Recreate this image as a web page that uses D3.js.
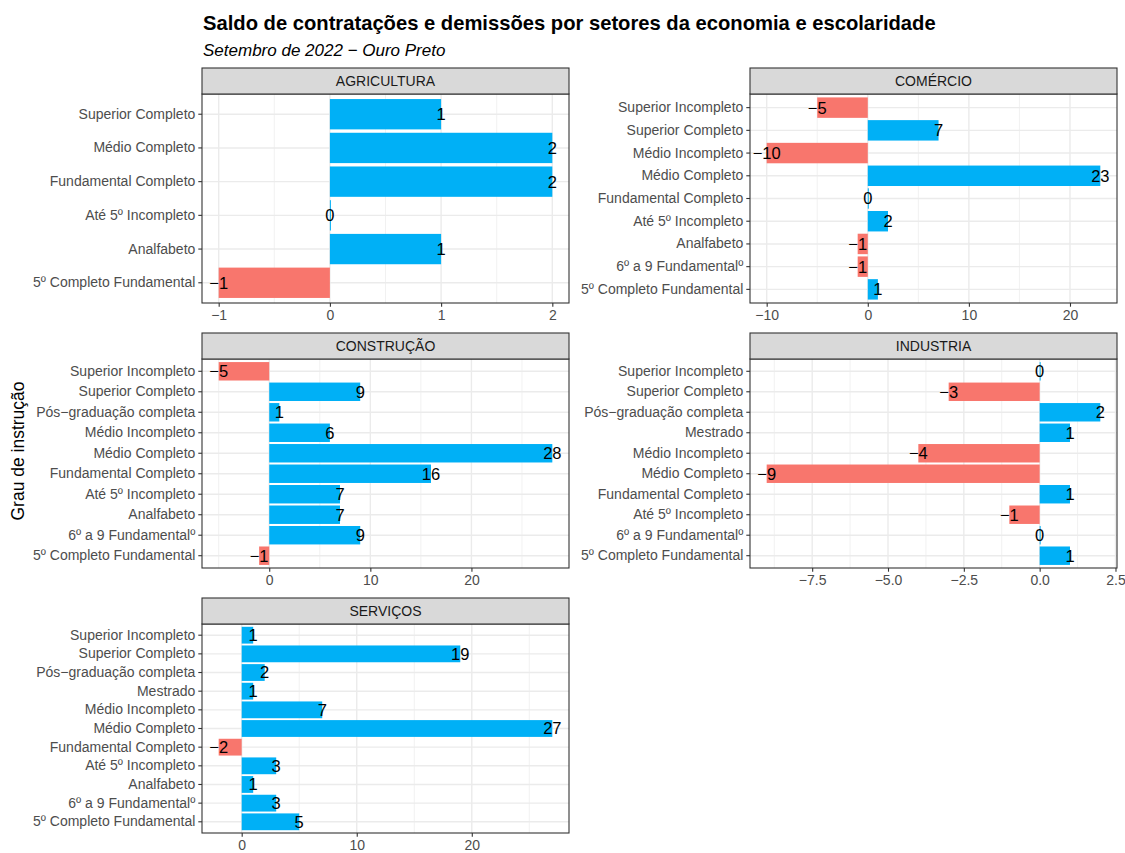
<!DOCTYPE html>
<html>
<head>
<meta charset="utf-8">
<script src="https://cdn.jsdelivr.net/npm/d3@7"></script>
<style>
  body { margin: 0; background: #fff; }
  text { font-family: "Liberation Sans", Arial, sans-serif; }
</style>
</head>
<body>
<div id="chart"></div>
<script>
// data: one array of categories (top to bottom) and values per sector
var sectors = ["AGRICULTURA", "COMÉRCIO", "CONSTRUÇÃO", "INDUSTRIA", "SERVIÇOS"];

var agriCats = ["Superior Completo", "Médio Completo", "Fundamental Completo", "Até 5º Incompleto", "Analfabeto", "5º Completo Fundamental"];
var agriVals = [1, 2, 2, 0, 1, -1];

var comCats = ["Superior Incompleto", "Superior Completo", "Médio Incompleto", "Médio Completo", "Fundamental Completo", "Até 5º Incompleto", "Analfabeto", "6º a 9 Fundamentalº", "5º Completo Fundamental"];
var comVals = [-5, 7, -10, 23, 0, 2, -1, -1, 1];

var consCats = ["Superior Incompleto", "Superior Completo", "Pós−graduação completa", "Médio Incompleto", "Médio Completo", "Fundamental Completo", "Até 5º Incompleto", "Analfabeto", "6º a 9 Fundamentalº", "5º Completo Fundamental"];
var consVals = [-5, 9, 1, 6, 28, 16, 7, 7, 9, -1];

var indCats = ["Superior Incompleto", "Superior Completo", "Pós−graduação completa", "Mestrado", "Médio Incompleto", "Médio Completo", "Fundamental Completo", "Até 5º Incompleto", "6º a 9 Fundamentalº", "5º Completo Fundamental"];
var indVals = [0, -3, 2, 1, -4, -9, 1, -1, 0, 1];

var servCats = ["Superior Incompleto", "Superior Completo", "Pós−graduação completa", "Mestrado", "Médio Incompleto", "Médio Completo", "Fundamental Completo", "Até 5º Incompleto", "Analfabeto", "6º a 9 Fundamentalº", "5º Completo Fundamental"];
var servVals = [1, 19, 2, 1, 7, 27, -2, 3, 1, 3, 5];

// x tick labels per sector
var agriTicks = [-1, 0, 1, 2];
var comTicks = [-10, 0, 10, 20];
var consTicks = [0, 10, 20];
var indTicks = [-7.5, -5, -2.5, 0, 2.5];
var servTicks = [0, 10, 20];

var facets = [
  { name: sectors[0], cats: agriCats, vals: agriVals, ticks: agriTicks, fmt: d3.format("d") },
  { name: sectors[1], cats: comCats, vals: comVals, ticks: comTicks, fmt: d3.format("d") },
  { name: sectors[2], cats: consCats, vals: consVals, ticks: consTicks, fmt: d3.format("d") },
  { name: sectors[3], cats: indCats, vals: indVals, ticks: indTicks, fmt: d3.format(".1f") },
  { name: sectors[4], cats: servCats, vals: servVals, ticks: servTicks, fmt: d3.format("d") }
];

var W = 1125, H = 853;
var colX = [202, 750], panelW = 367;
var rowY = [68, 333, 598], stripH = 26, panelH = 209;
var posColor = "#00B0F6", negColor = "#F8766D";

var svg = d3.select("#chart").append("svg")
  .attr("width", W).attr("height", H);

svg.append("text")
  .attr("x", 203).attr("y", 30)
  .style("font-size", "20.2px").style("font-weight", "bold")
  .text("Saldo de contratações e demissões por setores da economia e escolaridade");

svg.append("text")
  .attr("x", 203).attr("y", 56)
  .style("font-size", "17px").style("font-style", "italic")
  .text("Setembro de 2022 − Ouro Preto");

svg.append("text")
  .attr("transform", "translate(24," + 451 + ") rotate(-90)")
  .attr("text-anchor", "middle")
  .style("font-size", "17.5px")
  .text("Grau de instrução");

facets.forEach(function(f, i) {
  var px = colX[i % 2], top = rowY[Math.floor(i / 2)];
  var py = top + stripH;
  var g = svg.append("g");

  // x scale with ggplot's 5% expansion
  var ext = d3.extent(f.vals.concat([0]));
  var pad = (ext[1] - ext[0]) * 0.05;
  var x = d3.scaleLinear().domain([ext[0] - pad, ext[1] + pad]).range([px, px + panelW]);

  var y = d3.scaleBand().domain(f.cats).range([py, py + panelH])
    .paddingInner(0.1).paddingOuter(0.15);

  // minor breaks: midpoints between majors, extended by one step
  var step = f.ticks[1] - f.ticks[0];
  var minor = [];
  for (var k = -1; k < f.ticks.length; k++) {
    var m = f.ticks[0] + step * (k + 0.5);
    if (m > x.domain()[0] && m < x.domain()[1]) minor.push(m);
  }

  g.append("rect").attr("x", px).attr("y", py).attr("width", panelW).attr("height", panelH)
    .attr("fill", "#fff");

  g.selectAll(".minor").data(minor).enter().append("line")
    .attr("x1", function(d) { return x(d); }).attr("x2", function(d) { return x(d); })
    .attr("y1", py).attr("y2", py + panelH)
    .attr("stroke", "#EBEBEB").attr("stroke-width", 0.7);

  g.selectAll(".majx").data(f.ticks).enter().append("line")
    .attr("x1", function(d) { return x(d); }).attr("x2", function(d) { return x(d); })
    .attr("y1", py).attr("y2", py + panelH)
    .attr("stroke", "#EBEBEB").attr("stroke-width", 1.4);

  g.selectAll(".majy").data(f.cats).enter().append("line")
    .attr("x1", px).attr("x2", px + panelW)
    .attr("y1", function(d) { return y(d) + y.bandwidth() / 2; })
    .attr("y2", function(d) { return y(d) + y.bandwidth() / 2; })
    .attr("stroke", "#EBEBEB").attr("stroke-width", 1.4);

  var rows = f.cats.map(function(c, j) { return { cat: c, val: f.vals[j] }; });

  g.selectAll(".bar").data(rows).enter().append("rect")
    .attr("x", function(d) { return Math.min(x(0), x(d.val)); })
    .attr("y", function(d) { return y(d.cat); })
    .attr("width", function(d) { return Math.max(1, Math.abs(x(d.val) - x(0))); })
    .attr("height", y.bandwidth())
    .attr("fill", function(d) { return d.val < 0 ? negColor : posColor; });

  g.selectAll(".lab").data(rows).enter().append("text")
    .attr("x", function(d) { return x(d.val); })
    .attr("y", function(d) { return y(d.cat) + y.bandwidth() / 2; })
    .attr("dy", "0.36em")
    .attr("text-anchor", "middle")
    .style("font-size", "16.5px")
    .attr("fill", "#000")
    .text(function(d) { return d3.format("d")(d.val); });

  g.append("rect").attr("x", px).attr("y", py).attr("width", panelW).attr("height", panelH)
    .attr("fill", "none").attr("stroke", "#333333").attr("stroke-width", 1.1);

  // strip
  g.append("rect").attr("x", px).attr("y", top).attr("width", panelW).attr("height", stripH)
    .attr("fill", "#D9D9D9").attr("stroke", "#333333").attr("stroke-width", 1.1);
  g.append("text").attr("x", px + panelW / 2).attr("y", top + stripH / 2).attr("dy", "0.36em")
    .attr("text-anchor", "middle").style("font-size", "14px").attr("fill", "#1A1A1A")
    .text(f.name);

  // axes
  var xa = g.append("g").attr("transform", "translate(0," + (py + panelH) + ")")
    .call(d3.axisBottom(x).tickValues(f.ticks).tickFormat(f.fmt).tickSize(3.7).tickPadding(3));
  var ya = g.append("g").attr("transform", "translate(" + px + ",0)")
    .call(d3.axisLeft(y).tickSize(3.7).tickPadding(3));
  [xa, ya].forEach(function(a) {
    a.select(".domain").remove();
    a.selectAll(".tick line").attr("stroke", "#333333").attr("stroke-width", 1.1);
    a.selectAll(".tick text").attr("fill", "#4D4D4D").style("font-size", "14px")
      .style("font-family", "'Liberation Sans', Arial, sans-serif");
  });
});
</script>
</body>
</html>
